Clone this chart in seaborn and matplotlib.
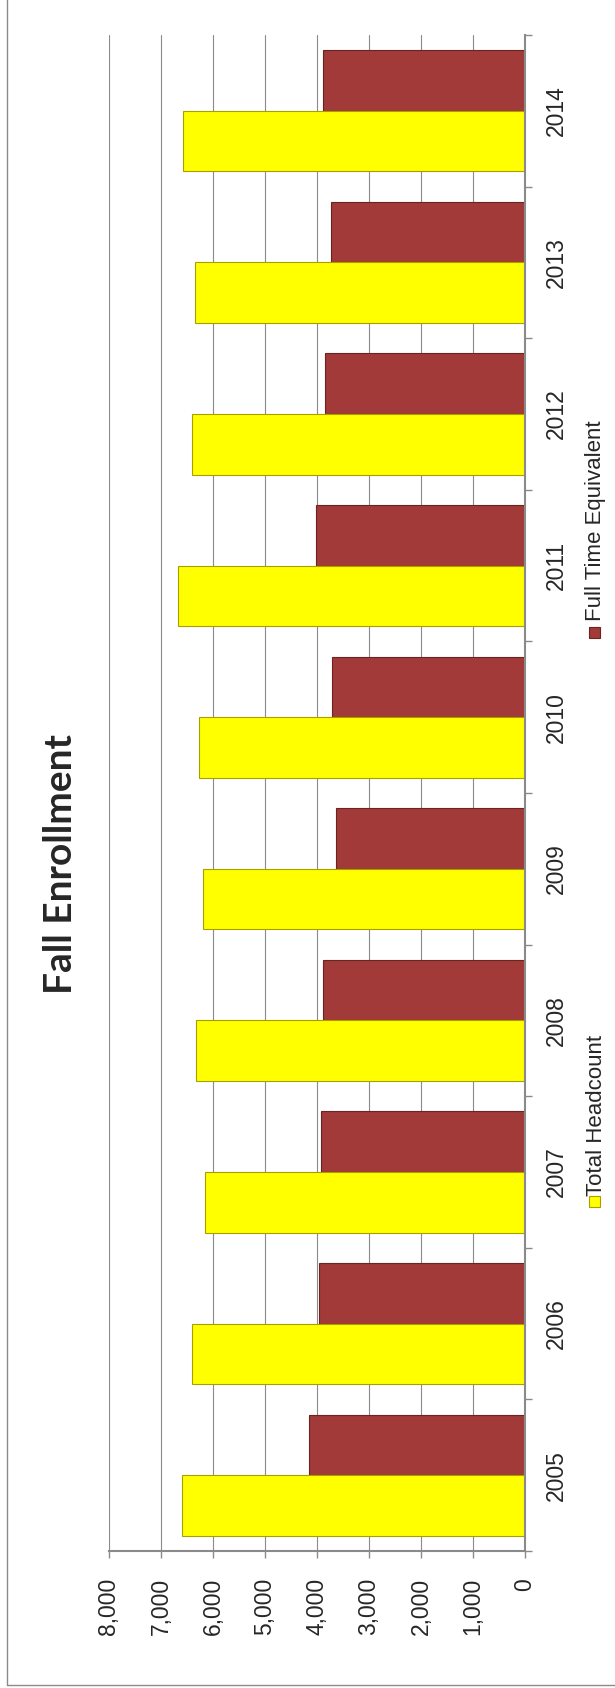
import matplotlib
matplotlib.use('Agg')
import matplotlib.pyplot as plt
import seaborn as sns
import pandas as pd
import numpy as np
from matplotlib.lines import Line2D
from matplotlib.patches import Rectangle

# ---- data ----
years = ['2005', '2006', '2007', '2008', '2009', '2010', '2011', '2012', '2013', '2014']
total_headcount = [6600, 6410, 6160, 6320, 6190, 6260, 6680, 6410, 6350, 6580]
full_time_equivalent = [4150, 3960, 3920, 3880, 3630, 3710, 4010, 3845, 3730, 3880]
series_names = ['Total Headcount', 'Full Time Equivalent']
value_ticks = [0, 1000, 2000, 3000, 4000, 5000, 6000, 7000, 8000]
title = 'Fall Enrollment'

df = pd.DataFrame({
    'Year': years + years,
    'Value': total_headcount + full_time_equivalent,
    'Series': [series_names[0]] * len(years) + [series_names[1]] * len(years),
})

sns.set_style('white')
plt.rcParams['font.family'] = ['Liberation Sans', 'DejaVu Sans']

W, H = 615, 1688
fig = plt.figure(figsize=(W / 100, H / 100), dpi=100)


def fx(px):
    return px / W


def fy(py):
    return 1 - py / H


ax = fig.add_axes([fx(109), fy(1551), fx(525) - fx(109), fy(35) - fy(1551)])

yellow = '#FFFF00'
red = '#A13A38'
palette = {series_names[0]: yellow, series_names[1]: red}
sns.barplot(data=df, y='Year', x='Value', hue='Series', order=years[::-1],
            hue_order=[series_names[1], series_names[0]], palette=palette,
            orient='h', width=0.8, ax=ax, legend=False, errorbar=None,
            saturation=1)

edge = {0: '#6a2422', 1: '#a8a000'}
for i, cont in enumerate(ax.containers):
    for p in cont:
        p.set_edgecolor(edge[i])
        p.set_linewidth(0.8)

grey = '#8a8a8a'
ax.set_xlim(8000, 0)
ax.set_ylim(9.5, -0.5)
ax.set_xticks(value_ticks)
ax.set_xticklabels([f'{v:,}' for v in value_ticks], rotation=90,
                   ha='center', va='top', fontsize=16.5)
ax.xaxis.grid(True, color=grey, lw=0.8)
ax.yaxis.grid(False)
ax.set_axisbelow(True)
ax.tick_params(axis='x', which='major', bottom=True, length=5, width=1,
               color=grey, pad=14.5)

ax.yaxis.tick_right()
ax.set_yticks(range(len(years)))
ax.set_yticklabels(years[::-1], rotation=90, va='center', ha='left', fontsize=16.5)
ax.set_yticks(np.arange(-0.5, len(years), 1), minor=True)
ax.tick_params(axis='y', which='major', length=0, pad=14)
ax.tick_params(axis='y', which='minor', right=True, left=False, length=5,
               width=1, color=grey)

for s in ['left', 'top']:
    ax.spines[s].set_visible(False)
for s in ['right', 'bottom']:
    ax.spines[s].set_color(grey)
    ax.spines[s].set_linewidth(1.5)
ax.set_xlabel('')
ax.set_ylabel('')

# title
fig.text(fx(60), fy(864), title, rotation=90, ha='center', va='center',
         fontsize=28, fontweight='bold', family=['Lato', 'DejaVu Sans'])

# legend (rotated)
fig.text(fx(596), fy(1196), series_names[0], rotation=90, ha='center',
         va='bottom', fontsize=16)
fig.add_artist(Rectangle((fx(589), fy(1207)), 11 / W, 11 / H,
                         transform=fig.transFigure, fc=yellow, ec='#a8a000', lw=0.8))
fig.text(fx(596), fy(621), series_names[1], rotation=90, ha='center',
         va='bottom', fontsize=16)
fig.add_artist(Rectangle((fx(589), fy(638)), 11 / W, 11 / H,
                         transform=fig.transFigure, fc=red, ec='#6a2422', lw=0.8))

# outer frame (left and bottom visible)
fig.add_artist(Line2D([fx(7), fx(7)], [1, fy(1685)], transform=fig.transFigure,
                      color=grey, lw=1))
fig.add_artist(Line2D([fx(7), 1], [fy(1685), fy(1685)], transform=fig.transFigure,
                      color=grey, lw=1))

fig.savefig('out.png', dpi=100)
